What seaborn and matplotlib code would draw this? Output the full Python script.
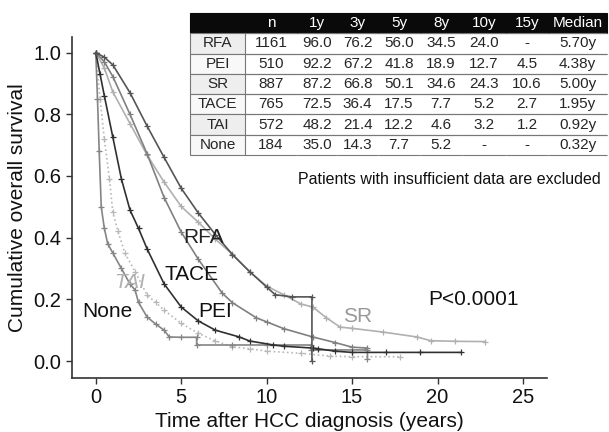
import matplotlib
matplotlib.use("Agg")
import matplotlib.pyplot as plt
import seaborn as sns
import pandas as pd

# survival curves (years, cumulative survival)

rfa_t = [0, 0.5, 1, 2, 3, 4, 5, 6, 7, 8, 9, 10, 10.5, 11.5, 12.65, 12.65]
rfa_s = [1.0, 0.985, 0.96, 0.87, 0.762, 0.66, 0.56, 0.48, 0.41, 0.345, 0.29, 0.24, 0.215, 0.208, 0.208, 0.0]

sr_t = [0, 0.5, 1, 2, 3, 4, 5, 6, 7, 8, 9, 10, 11, 12, 12.7, 13.5, 14.3, 15, 16.8, 18.8, 19.6, 21, 22.8]
sr_s = [1.0, 0.95, 0.872, 0.77, 0.668, 0.58, 0.501, 0.45, 0.395, 0.346, 0.29, 0.243, 0.215, 0.185, 0.175, 0.14, 0.11, 0.106, 0.094, 0.078, 0.066, 0.064, 0.063]

pei_t = [0, 0.5, 1, 2, 3, 4, 5, 6, 7.4, 8, 9.4, 10, 11, 12.7, 14, 15, 15.9]
pei_s = [1.0, 0.97, 0.922, 0.80, 0.672, 0.53, 0.418, 0.33, 0.22, 0.189, 0.14, 0.127, 0.105, 0.078, 0.06, 0.045, 0.042]

tace_t = [0, 0.25, 0.5, 1, 1.5, 2, 2.5, 3, 4, 5, 6, 7, 8.4, 9, 10.4, 11, 12.7, 13, 14, 15, 17, 19, 21.4]
tace_s = [1.0, 0.93, 0.86, 0.725, 0.59, 0.49, 0.43, 0.364, 0.25, 0.175, 0.13, 0.10, 0.078, 0.065, 0.052, 0.048, 0.042, 0.04, 0.032, 0.028, 0.028, 0.028, 0.028]

tai_t = [0, 0.25, 0.5, 0.8, 1, 1.3, 1.7, 2.3, 3, 3.5, 4, 5, 6, 7, 8, 9, 10, 12, 13.7, 15, 17.8]
tai_s = [1.0, 0.85, 0.72, 0.59, 0.482, 0.42, 0.35, 0.29, 0.214, 0.19, 0.165, 0.122, 0.09, 0.065, 0.046, 0.04, 0.032, 0.025, 0.016, 0.014, 0.014]

none_t = [0, 0.1, 0.2, 0.32, 0.5, 0.7, 1, 1.5, 2, 2.3, 2.5, 3, 3.5, 4, 4.3, 5, 5.9, 5.9, 8, 10, 12.6, 12.6, 15.9, 15.9]
none_s = [1.0, 0.85, 0.68, 0.5, 0.43, 0.38, 0.35, 0.30, 0.25, 0.23, 0.19, 0.143, 0.12, 0.10, 0.078, 0.077, 0.077, 0.052, 0.052, 0.052, 0.052, 0.036, 0.036, 0.005]

# table values

row_names = ["RFA", "PEI", "SR", "TACE", "TAI", "None"]
col_names = ["", "n", "1y", "3y", "5y", "8y", "10y", "15y", "Median"]
n_vals = ["1161", "510", "887", "765", "572", "184"]
y1 = ["96.0", "92.2", "87.2", "72.5", "48.2", "35.0"]
y3 = ["76.2", "67.2", "66.8", "36.4", "21.4", "14.3"]
y5 = ["56.0", "41.8", "50.1", "17.5", "12.2", "7.7"]
y8 = ["34.5", "18.9", "34.6", "7.7", "4.6", "5.2"]
y10 = ["24.0", "12.7", "24.3", "5.2", "3.2", "-"]
y15 = ["-", "4.5", "10.6", "2.7", "1.2", "-"]
medians = ["5.70y", "4.38y", "5.00y", "1.95y", "0.92y", "0.32y"]

sns.set_style("ticks")
plt.rcParams["font.family"] = ["Liberation Sans", "DejaVu Sans"]

fig = plt.figure(figsize=(6.09, 4.32), dpi=100)
ax = fig.add_axes([0.118, 0.125, 0.78, 0.789])

curves = [
    (sr_t, sr_s, "#b0b0b0", "-"),
    (pei_t, pei_s, "#808080", "-"),
    (tai_t, tai_s, "#b8b8b8", ":"),
    (none_t, none_s, "#858585", "-"),
    (tace_t, tace_s, "#303030", "-"),
    (rfa_t, rfa_s, "#555555", "-"),
]
for t, s, color, ls in curves:
    df = pd.DataFrame({"t": t, "s": s})
    sns.lineplot(data=df, x="t", y="s", ax=ax, color=color, linestyle=ls, linewidth=1.2,
                 estimator=None, sort=False, marker="+", markersize=4.5, markeredgewidth=0.9,
                 markeredgecolor=color)

ax.set_xlim(-1.4, 26.4)
ax.set_ylim(-0.055, 1.05)
ax.set_xticks([0, 5, 10, 15, 20, 25])
ax.set_yticks([0.0, 0.2, 0.4, 0.6, 0.8, 1.0])
ax.set_yticklabels(["0.0", "0.2", "0.4", "0.6", "0.8", "1.0"])
ax.tick_params(labelsize=14.5, length=4, width=1, color="#333333", labelcolor="#111111")
ax.set_xlabel("Time after HCC diagnosis (years)", fontsize=15, labelpad=3, color="#111111")
ax.set_ylabel("Cumulative overall survival", fontsize=15, labelpad=5, color="#111111")
sns.despine(ax=ax)
for sp in ["left", "bottom"]:
    ax.spines[sp].set_linewidth(1.2)
    ax.spines[sp].set_color("#333333")

# curve labels
ax.text(6.3, 0.40, "RFA", fontsize=15, ha="center", va="center", color="#222222")
ax.text(2.0, 0.253, "TAI", fontsize=15, ha="center", va="center", color="#b0b0b0", style="italic")
ax.text(5.6, 0.282, "TACE", fontsize=15, ha="center", va="center", color="#111111")
ax.text(0.7, 0.162, "None", fontsize=15, ha="center", va="center", color="#111111")
ax.text(7.0, 0.162, "PEI", fontsize=15, ha="center", va="center", color="#111111")
ax.text(15.35, 0.143, "SR", fontsize=15, ha="center", va="center", color="#999999")
ax.text(22.1, 0.20, "P<0.0001", fontsize=15, ha="center", va="center", color="#111111")
ax.text(20.7, 0.587, "Patients with insufficient data are excluded", fontsize=11.5,
        ha="center", va="center", color="#111111")

# summary table
tab_ax = fig.add_axes([0.312, 0.641, 0.685, 0.329])
tab_ax.axis("off")
cells = [[row_names[i], n_vals[i], y1[i], y3[i], y5[i], y8[i], y10[i], y15[i], medians[i]]
         for i in range(len(row_names))]
widths = [55, 52, 40, 41, 42, 42, 44, 42, 59]
widths = [w / sum(widths) for w in widths]
table = tab_ax.table(cellText=cells, colLabels=col_names, colWidths=widths,
                     cellLoc="center", bbox=[0, 0, 1, 1])
table.auto_set_font_size(False)
table.set_fontsize(11)
for (r, c), cell in table.get_celld().items():
    cell.set_linewidth(0.8)
    cell.set_edgecolor("#777777")
    if r == 0:
        cell.set_facecolor("#0a0a0a")
        cell.set_edgecolor("#0a0a0a")
        cell.get_text().set_color("white")
    else:
        cell.set_facecolor("#eeeeee" if r % 2 else "#f8f8f8")
        if c != 0:
            cell.visible_edges = "BT"

fig.savefig("out.png", dpi=100)
